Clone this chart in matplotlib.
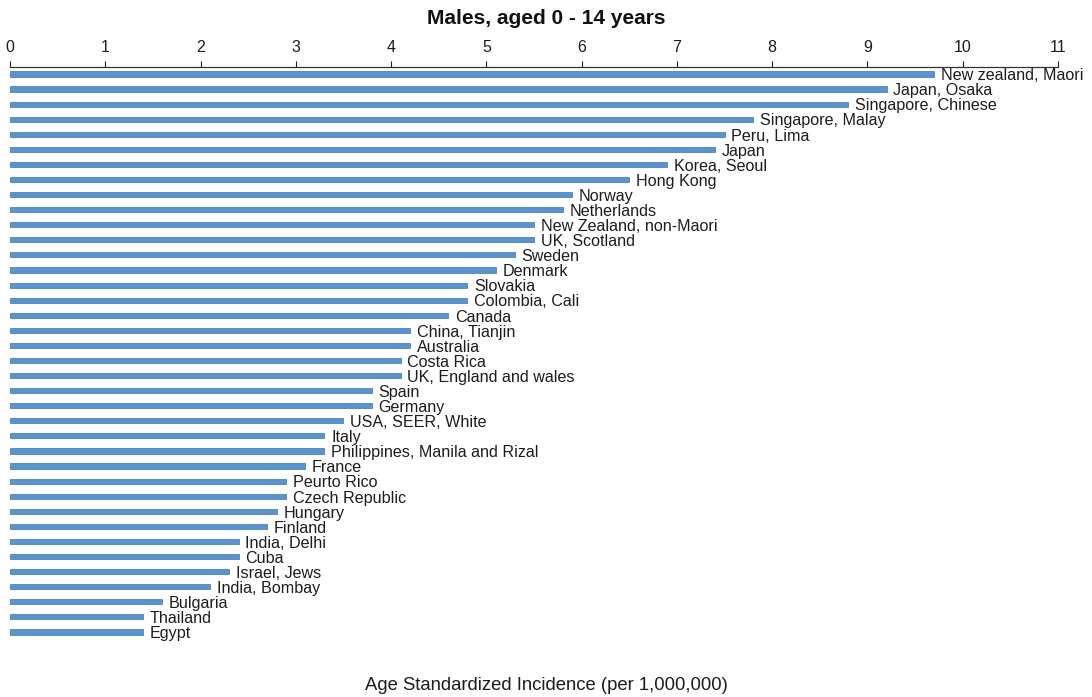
import matplotlib
matplotlib.use("Agg")
import matplotlib.pyplot as plt

plt.rcParams["font.family"] = ["Liberation Sans", "DejaVu Sans"]

countries = [
    "New zealand, Maori", "Japan, Osaka", "Singapore, Chinese", "Singapore, Malay",
    "Peru, Lima", "Japan", "Korea, Seoul", "Hong Kong", "Norway", "Netherlands",
    "New Zealand, non-Maori", "UK, Scotland", "Sweden", "Denmark", "Slovakia",
    "Colombia, Cali", "Canada", "China, Tianjin", "Australia", "Costa Rica",
    "UK, England and wales", "Spain", "Germany", "USA, SEER, White", "Italy",
    "Philippines, Manila and Rizal", "France", "Peurto Rico", "Czech Republic",
    "Hungary", "Finland", "India, Delhi", "Cuba", "Israel, Jews", "India, Bombay",
    "Bulgaria", "Thailand", "Egypt",
]
incidence = [
    9.7, 9.2, 8.8, 7.8, 7.5, 7.4, 6.9, 6.5, 5.9, 5.8,
    5.5, 5.5, 5.3, 5.1, 4.8, 4.8, 4.6, 4.2, 4.2, 4.1,
    4.1, 3.8, 3.8, 3.5, 3.3, 3.3, 3.1, 2.9, 2.9, 2.8,
    2.7, 2.4, 2.4, 2.3, 2.1, 1.6, 1.4, 1.4,
]
x_ticks = list(range(0, 12))

W, H = 1092, 697
fig = plt.figure(figsize=(W / 100, H / 100), dpi=100)
ax_left, ax_right, ax_top, ax_bottom = 10, 1058, 67, 660
ax = fig.add_axes([ax_left / W, 1 - ax_bottom / H,
                   (ax_right - ax_left) / W, (ax_bottom - ax_top) / H])

ypos = list(range(len(countries)))
ax.barh(ypos, incidence, height=0.34, color="#5b93cc", edgecolor="#4a83c0",
        linewidth=0.6)
for y, v, name in zip(ypos, incidence, countries):
    ax.text(v + 0.07, y + 0.12, name, va="center", ha="left", fontsize=11.6,
            color="#1c1c1c")

ax.set_xlim(0, 11)
ax.set_ylim(len(countries) - 1 + 1.86, -0.46)
ax.set_xticks(x_ticks)
ax.xaxis.tick_top()
ax.tick_params(axis="x", direction="out", length=4, width=0.8, labelsize=11.5,
               colors="#1c1c1c", pad=5)
ax.set_yticks([])
for side in ("left", "right", "bottom"):
    ax.spines[side].set_visible(False)
ax.spines["top"].set_color("#333333")
ax.spines["top"].set_linewidth(0.9)

fig.text(0.5, 1 - 18 / H, "Males, aged 0 - 14 years", ha="center", va="center",
         fontsize=15, fontweight="bold", color="#111111")
fig.text(0.5, 1 - 685 / H, "Age Standardized Incidence (per 1,000,000)",
         ha="center", va="center", fontsize=13.3, color="#1c1c1c")

fig.savefig("out.png", dpi=100)
